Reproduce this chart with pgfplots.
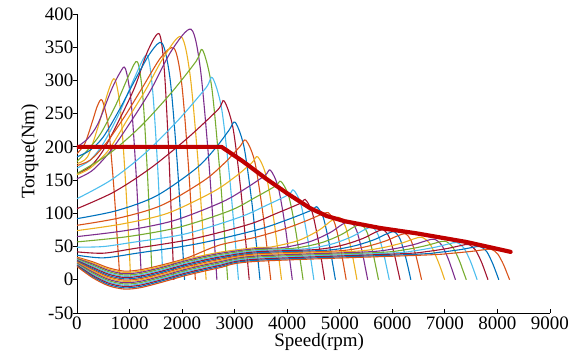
\documentclass[border=0pt]{standalone}
\usepackage{fontspec}
\setmainfont{Liberation Serif}
\usepackage{pgfplots}
\pgfplotsset{compat=1.18}
\definecolor{c1}{rgb}{0,0.447,0.741}
\definecolor{c2}{rgb}{0.850,0.325,0.098}
\definecolor{c3}{rgb}{0.929,0.694,0.125}
\definecolor{c4}{rgb}{0.494,0.184,0.556}
\definecolor{c5}{rgb}{0.466,0.674,0.188}
\definecolor{c6}{rgb}{0.301,0.745,0.933}
\definecolor{c7}{rgb}{0.635,0.078,0.184}
\definecolor{envred}{RGB}{192,0,0}
\begin{document}
\begin{tikzpicture}
\begin{axis}[name=ax,
 scale only axis, width=473pt, height=299pt,
 xmin=0, xmax=9000, ymin=-50, ymax=400,
 axis lines*=left,
 xtick={0,1000,...,9000}, ytick={-50,0,...,400},
 tick align=inside, major tick length=4pt,
 ytick style={xshift=-4pt},
 tick style={black, line width=0.8pt},
 axis line style={black, line width=0.8pt},
 /pgf/number format/assume math mode=true,
 /pgf/number format/1000 sep={},
 ticklabel style={font=\fontsize{19}{22}\selectfont},
 label style={font=\fontsize{19}{22}\selectfont},
 xlabel={Speed(rpm)}, ylabel={Torque(Nm)},
 xlabel style={at={(axis description cs:0.512,-0.097)}, anchor=center},
 ylabel style={at={(axis description cs:-0.10,0.54)}, anchor=center},
 cycle list={{c2},{c3},{c4},{c5},{c6},{c7},{c1}},
 every axis plot/.append style={line width=1.1pt, smooth, tension=0.5},
]
% k=1..10
\addplot coordinates {(0,190) (150,205) (300,240) (390,262) (480,270) (598,230) (699,141) (766,62) (817,0)};
\addplot coordinates {(0,175) (200,185) (400,230) (600,285) (720,302) (826,257) (916,157) (979,69) (1022,0)};
\addplot coordinates {(0,200) (200,212) (400,235) (650,285) (820,312) (920,318) (1027,270) (1120,166) (1181,73) (1227,0)};
\addplot coordinates {(0,178) (200,195) (450,220) (750,265) (1000,310) (1150,328) (1249,279) (1333,171) (1390,75) (1432,0)};
\addplot coordinates {(0,168) (250,180) (500,205) (800,250) (1100,305) (1330,338) (1437,287) (1530,176) (1591,78) (1637,0)};
\addplot coordinates {(0,160) (250,170) (500,195) (800,240) (1100,290) (1350,345) (1565,370) (1662,315) (1745,193) (1800,86) (1842,0)};
\addplot coordinates {(0,185) (250,195) (500,215) (800,255) (1100,300) (1400,342) (1620,356) (1770,303) (1898,186) (1983,83) (2047,0)};
\addplot coordinates {(0,172) (250,180) (550,205) (900,245) (1250,290) (1600,335) (1850,348) (1991,296) (2111,182) (2192,81) (2252,0)};
\addplot coordinates {(0,158) (250,168) (600,195) (950,240) (1300,285) (1650,335) (1980,366) (2147,311) (2290,191) (2385,85) (2457,0)};
\addplot coordinates {(0,152) (300,165) (650,195) (1000,235) (1400,285) (1800,345) (2170,377) (2342,321) (2490,197) (2588,88) (2662,0)};
% k=11..21
\addplot coordinates {(0,160) (600,189) (1200,230) (1800,282) (2268,329) (2388,346) (2556,294) (2699,180) (2795,81) (2867,0)};
\addplot coordinates {(0,122) (645,150) (1289,190) (1934,241) (2455,289) (2578,304) (2751,258) (2899,158) (2998,70) (3072,0)};
\addplot coordinates {(0,107) (700,132) (1400,168) (2100,213) (2681,256) (2800,269) (2967,229) (3110,140) (3205,62) (3277,0)};
\addplot coordinates {(0,92) (753,104) (1505,126) (2258,167) (2634,198) (2892,225) (3010,237) (3175,201) (3317,123) (3411,55) (3482,0)};
\addplot coordinates {(0,82) (803,93) (1607,112) (2410,149) (2811,176) (3095,200) (3213,210) (3379,179) (3521,109) (3616,48) (3687,0)};
\addplot coordinates {(0,74) (860,84) (1720,100) (2580,132) (3010,155) (3327,176) (3440,185) (3598,157) (3734,96) (3824,43) (3892,0)};
\addplot coordinates {(0,65) (920,74) (1840,89) (2760,117) (3220,138) (3576,157) (3680,165) (3826,140) (3951,86) (4034,38) (4097,0)};
\addplot coordinates {(0,57) (970,65) (1940,79) (2910,104) (3395,124) (3775,141) (3880,148) (4028,126) (4154,77) (4239,34) (4302,0)};
\addplot coordinates {(0,49) (500,50) (1030,56) (2060,69) (3090,94) (3605,112) (4023,128) (4120,135) (4255,115) (4372,70) (4449,31) (4507,0)};
\addplot coordinates {(0,42) (500,40) (1085,47) (2170,61) (3255,83) (3798,100) (4247,115) (4340,121) (4470,103) (4582,63) (4656,28) (4712,0)};
\addplot coordinates {(0,37) (500,33) (1140,40) (2280,54) (3420,75) (3990,90) (4471,105) (4560,110) (4685,94) (4792,57) (4863,25) (4917,0)};
% k=22..36
\addplot coordinates {(0,34) (300,27) (600,18) (900,13) (1200,15) (1600,22) (2100,33) (2700,52) (3400,64) (4000,78) (4400,90) (4640,98) (4780,101) (4900,86) (5002,53) (5071,23) (5122,0)};
\addplot coordinates {(0,33) (300,25.3) (600,16.1) (900,11.1) (1200,13.1) (1600,20.1) (2100,31.1) (2700,41.2) (3400,48.4) (3690,49.3) (4210,59) (4600,74.4) (4834,88.6) (4990,94) (5108,80) (5209,49) (5276,22) (5327,0)};
\addplot coordinates {(0,32) (300,23.6) (600,14.1) (900,9.1) (1200,11.1) (1600,18.3) (2100,29.3) (2700,39.4) (3400,46.8) (3900,48.3) (4420,57.1) (4810,70.7) (5044,83.2) (5200,88) (5316,75) (5416,46) (5482,20) (5532,0)};
\addplot coordinates {(0,31) (300,21.9) (600,12.2) (900,7.2) (1200,9.2) (1600,16.4) (2100,27.4) (2700,37.6) (3400,45.2) (4110,47.3) (4630,55.3) (5020,67.6) (5254,78.8) (5410,83) (5524,70.6) (5623,43) (5688,19) (5737,0)};
\addplot coordinates {(0,30) (300,20.1) (600,10.3) (900,5.3) (1200,7.3) (1600,14.6) (2100,25.6) (2700,35.8) (3400,43.6) (4320,46.4) (4840,53.6) (5230,64.9) (5464,75.1) (5620,79) (5733,67) (5829,41) (5894,18) (5942,0)};
\addplot coordinates {(0,29) (300,18.4) (600,8.4) (900,3.4) (1200,5.4) (1600,12.7) (2100,23.7) (2700,34) (3400,42) (4530,45.4) (5050,52.1) (5440,62.2) (5674,71.4) (5830,75) (5941,64) (6036,39) (6099,17) (6147,0)};
\addplot coordinates {(0,28) (300,16.7) (600,6.4) (900,1.4) (1200,3.4) (1600,10.9) (2100,21.9) (2700,32.2) (3400,40.4) (4740,44.4) (5260,50.7) (5650,60.2) (5884,68.8) (6040,72) (6149,61) (6243,37) (6305,17) (6352,0)};
\addplot coordinates {(0,27) (300,15) (600,4.5) (900,-0.5) (1200,1.5) (1600,9) (2100,20) (2700,30.4) (3400,38.8) (4950,43.4) (5470,49.3) (5860,58.1) (6094,65.9) (6250,69) (6357,59) (6450,36) (6511,16) (6557,0)};
\addplot coordinates {(0,26) (300,13.3) (600,2.6) (900,-2.4) (1200,-0.4) (1600,7.1) (2100,18.1) (2700,28.6) (3400,37.2) (5260,42.8) (5780,47.8) (6170,55) (6404,61.4) (6560,64) (6713,54.4) (6843,33) (6931,15) (6996,0)};
\addplot coordinates {(0,25) (300,11.6) (600,0.6) (900,-4.4) (1200,-2.4) (1600,5.3) (2100,16.3) (2700,26.8) (3400,35.6) (5500,41.9) (6020,46.5) (6410,53) (6644,58.7) (6800,61) (6941,52) (7061,32) (7142,14) (7202,0)};
\addplot coordinates {(0,24) (300,9.9) (600,-1.3) (900,-6.3) (1200,-4.3) (1600,3.4) (2100,14.4) (2700,25) (3400,34) (5710,40.9) (6230,45.1) (6620,51) (6854,56) (7010,58) (7149,49) (7269,30) (7348,13) (7408,0)};
\addplot coordinates {(0,23) (300,8.1) (600,-3.2) (900,-8.2) (1200,-6.2) (1600,1.6) (2100,12.6) (2700,23.2) (3400,32.4) (5930,40) (6450,44) (6840,49.4) (7074,54) (7230,56) (7364,47.6) (7480,29) (7556,13) (7614,0)};
\addplot coordinates {(0,22) (300,6.4) (600,-5.1) (900,-10.1) (1200,-8.1) (1600,-0.3) (2100,10.7) (2700,21.4) (3400,30.8) (6150,39.1) (6670,42.6) (7060,47.3) (7294,51.3) (7450,53) (7580,45) (7691,27.6) (7765,12.2) (7820,0)};
\addplot coordinates {(0,21) (300,4.7) (600,-7.1) (900,-12.1) (1200,-10.1) (1600,-2.1) (2100,8.9) (2700,19.6) (3400,29.2) (6370,38.1) (6890,41.3) (7280,45.2) (7514,48.5) (7670,50) (7795,42.5) (7901,26) (7973,11.5) (8026,0)};
\addplot coordinates {(0,20) (300,3) (600,-9) (900,-14) (1200,-12) (1600,-4) (2100,7) (2700,17.8) (3400,27.6) (6580,37.1) (7100,39.7) (7490,42.6) (7724,45) (7880,46) (8003,39) (8109,24) (8179,10.6) (8232,0)};
% envelope
\addplot[draw=envred, line width=4.2pt, sharp plot, line join=round, line cap=round] coordinates {(0,200) (2750,200) (3160,178) (3600,152) (4000,130) (4430,108) (4750,96) (5100,88) (5760,78) (6450,70) (7400,57) (8250,42)};
\end{axis}
\pgfresetboundingbox
\path[use as bounding box] (ax.south west) ++(-77pt,-39pt) rectangle ++(579pt,352pt);
\end{tikzpicture}
\end{document}
